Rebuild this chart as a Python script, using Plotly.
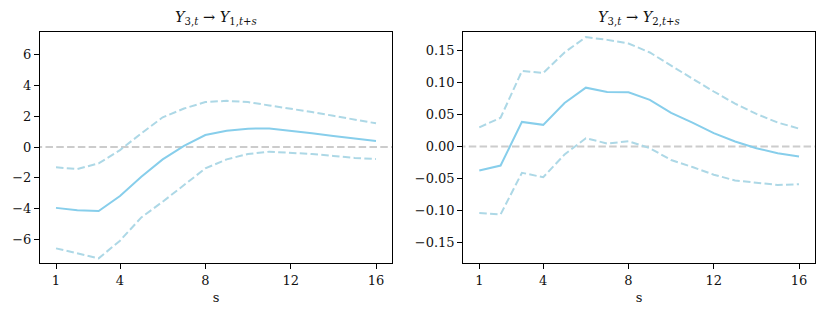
import plotly.graph_objects as go

s = list(range(1, 17))

# Panel 1: Y3 -> Y1
irf1 = [-3.95, -4.1, -4.15, -3.18, -1.93, -0.8, 0.08, 0.78, 1.06, 1.19, 1.21, 1.06, 0.89, 0.71, 0.54, 0.39]
upper1 = [-1.32, -1.43, -1.06, -0.2, 0.89, 1.93, 2.5, 2.92, 3.0, 2.92, 2.7, 2.5, 2.27, 2.03, 1.8, 1.54]
lower1 = [-6.58, -6.9, -7.23, -6.08, -4.57, -3.55, -2.47, -1.39, -0.8, -0.45, -0.3, -0.37, -0.45, -0.58, -0.71, -0.78]

# Panel 2: Y3 -> Y2
irf2 = [-0.0375, -0.0297, 0.0385, 0.0339, 0.068, 0.092, 0.0854, 0.0849, 0.073, 0.0526, 0.0375, 0.021, 0.0078, -0.0026, -0.0104, -0.0156]
upper2 = [0.030, 0.045, 0.118, 0.115, 0.147, 0.171, 0.1667, 0.161, 0.147, 0.126, 0.106, 0.086, 0.067, 0.051, 0.0375, 0.028]
lower2 = [-0.104, -0.106, -0.041, -0.048, -0.0125, 0.013, 0.0047, 0.0083, -0.0026, -0.021, -0.032, -0.044, -0.053, -0.057, -0.060, -0.059]

x_ticks = [1, 4, 8, 12, 16]
y_ticks1 = [-6, -4, -2, 0, 2, 4, 6]
y_ticks2 = [-0.15, -0.10, -0.05, 0.0, 0.05, 0.10, 0.15]

titles = ["<i>Y</i><sub>3,<i>t</i></sub> → <i>Y</i><sub>1,<i>t</i>+<i>s</i></sub>",
          "<i>Y</i><sub>3,<i>t</i></sub> → <i>Y</i><sub>2,<i>t</i>+<i>s</i></sub>"]

LINE = "#87CEEB"
BAND = "#ADD8E6"
ZERO = "#CCCCCC"
FONT = "DejaVu Serif"
DASH = "7.5px,3.3px"
TXT = "#111"

fig = go.Figure()

panels = [(irf1, upper1, lower1, "x", "y"), (irf2, upper2, lower2, "x2", "y2")]
for irf, up, lo, xa, ya in panels:
    fig.add_trace(go.Scatter(x=[0, 17], y=[0, 0], mode="lines", xaxis=xa, yaxis=ya,
                             line=dict(color=ZERO, width=2, dash=DASH), showlegend=False, hoverinfo="skip"))
    fig.add_trace(go.Scatter(x=s, y=up, mode="lines", xaxis=xa, yaxis=ya,
                             line=dict(color=BAND, width=2, dash=DASH), showlegend=False))
    fig.add_trace(go.Scatter(x=s, y=lo, mode="lines", xaxis=xa, yaxis=ya,
                             line=dict(color=BAND, width=2, dash=DASH), showlegend=False))
    fig.add_trace(go.Scatter(x=s, y=irf, mode="lines", xaxis=xa, yaxis=ya,
                             line=dict(color=LINE, width=2), showlegend=False))

axis_common = dict(showline=True, linecolor="black", linewidth=1.1, mirror=True,
                   ticks="outside", ticklen=5, tickwidth=1.1, tickcolor="black", showgrid=False, zeroline=False,
                   tickfont=dict(family=FONT, size=13, color=TXT))

fig.update_layout(
    width=825, height=316,
    margin=dict(l=0, r=0, t=32, b=53),
    plot_bgcolor="white", paper_bgcolor="white",
    font=dict(family=FONT, size=13, color=TXT),
    xaxis=dict(domain=[40/825, 392/825], range=[0.25, 16.75], tickvals=x_ticks,
               title=dict(text="s", standoff=6, font=dict(family=FONT, size=13, color=TXT)), **axis_common),
    yaxis=dict(domain=[0, 1], range=[-7.53, 7.47], tickvals=y_ticks1, anchor="x", **axis_common),
    xaxis2=dict(domain=[463.3/825, 815/825], range=[0.25, 16.75], tickvals=x_ticks, anchor="y2",
                title=dict(text="s", standoff=6, font=dict(family=FONT, size=13, color=TXT)), **axis_common),
    yaxis2=dict(domain=[0, 1], range=[-0.182, 0.179], tickvals=y_ticks2, tickformat=".2f", anchor="x2", **axis_common),
    annotations=[
        dict(text=titles[0], x=(40+392)/2/825, y=1, xref="paper", yref="paper", yshift=3,
             xanchor="center", yanchor="bottom", showarrow=False, font=dict(family=FONT, size=14.5, color=TXT)),
        dict(text=titles[1], x=(463.3+815)/2/825, y=1, xref="paper", yref="paper", yshift=3,
             xanchor="center", yanchor="bottom", showarrow=False, font=dict(family=FONT, size=14.5, color=TXT)),
    ],
)

fig.write_html("out.html", config={"displayModeBar": False},
               post_script="document.body.style.margin='0';document.body.style.padding='0';")
